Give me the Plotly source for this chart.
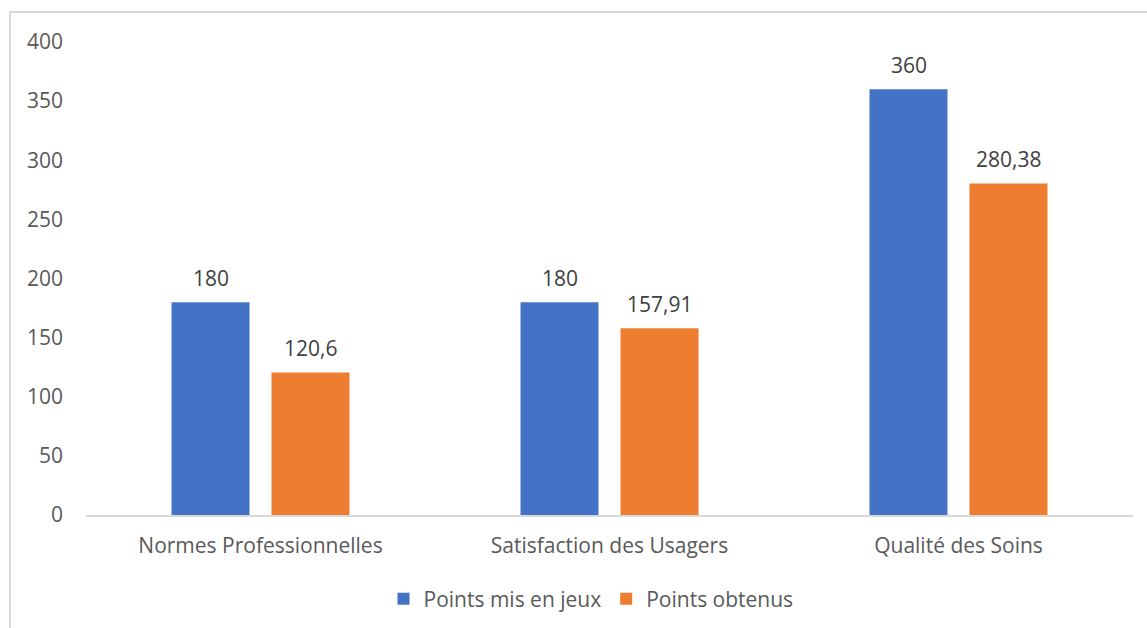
import plotly.graph_objects as go

categories = ["Normes Professionnelles", "Satisfaction des Usagers", "Qualité des Soins"]
series_names = ["Points mis en jeux", "Points obtenus"]
points_mis = [180, 180, 360]
points_obtenus = [120.6, 157.91, 280.38]
colors = ["#4472C4", "#ED7D31"]
y_ticks = [0, 50, 100, 150, 200, 250, 300, 350, 400]

def fmt(v):
    return (str(int(v)) if float(v).is_integer() else str(v)).replace(".", ",")

font_family = "'Open Sans', Lato, sans-serif"
FS = 21
fig = go.Figure()
annotations = []
for i, (name, vals, col) in enumerate(zip(series_names, [points_mis, points_obtenus], colors)):
    fig.add_trace(go.Bar(
        x=categories, y=vals, name=name, marker=dict(color=col, line=dict(width=0)),
    ))
    for c, v in zip(categories, vals):
        annotations.append(dict(x=c, y=v, xref="x", yref="y", text=fmt(v), showarrow=False,
                                xshift=(i - 0.5) * 100, yanchor="bottom", yshift=8,
                                font=dict(size=FS, color="#404040", family=font_family)))

W, H = 1147, 628
l, r, t, b = 86, 14, 42, 113
pw, ph = W - l - r, H - t - b

def px_x(p):
    return (p - l) / pw

def px_y(p):
    return (H - b - p) / ph

fig.update_layout(
    width=W, height=H,
    margin=dict(l=l, r=r, t=t, b=b, autoexpand=False),
    paper_bgcolor="white", plot_bgcolor="white",
    barmode="group", bargap=0.427, bargroupgap=0.22,
    font=dict(family=font_family, size=FS, color="#595959"),
    showlegend=True,
    legend=dict(orientation="h", x=px_x(591), xanchor="center", y=px_y(599), yanchor="middle",
                font=dict(size=FS, color="#595959"), itemwidth=30, tracegroupgap=0),
    xaxis=dict(showgrid=False, showline=True, linecolor="#D9D9D9", linewidth=1.5,
               ticks="", ticklabelstandoff=11, tickfont=dict(size=FS, color="#595959"),
               automargin=False),
    yaxis=dict(range=[0, 400], tickvals=y_ticks, showgrid=False, zeroline=False,
               showline=False, ticks="", ticklabelstandoff=22,
               tickfont=dict(size=FS, color="#595959"), automargin=False),
    annotations=annotations,
    shapes=[dict(type="rect", xref="paper", yref="paper",
                 x0=px_x(10), x1=px_x(W + 5), y0=px_y(12), y1=px_y(H + 5),
                 line=dict(color="#D9D9D9", width=2), fillcolor="rgba(0,0,0,0)", layer="below")],
)
fig.write_html("out.html")
